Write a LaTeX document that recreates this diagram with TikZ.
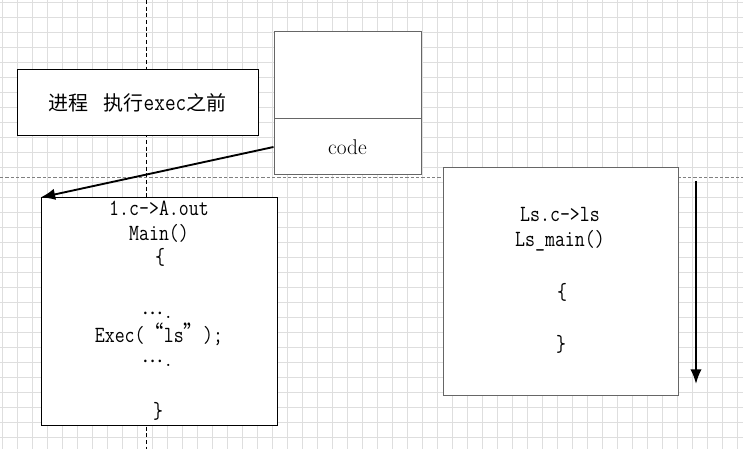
\documentclass[tikz,border=0pt]{standalone}
\usepackage{fontspec}
\usepackage{graphicx}
\newfontfamily\cjk{Noto Sans CJK SC}
\usetikzlibrary{arrows.meta}
\newcommand{\tallt}[1]{\scalebox{1}[1.2]{#1}}
\newcommand{\elli}{\raisebox{2.5pt}{\cjk …}}
\begin{document}
\begin{tikzpicture}[x=0.75pt,y=-0.75pt,
  boxg/.style={draw=black!60,line width=0.75pt,fill=white,inner sep=0pt},
  boxk/.style={draw=black,line width=0.75pt,fill=white,inner sep=0pt},
  codetxt/.style={font=\ttfamily\fontsize{14.5}{16}\selectfont,inner sep=0pt,anchor=base},
  arr/.style={line width=1.4pt,-{Latex[length=11pt,width=8.5pt]}}
]
\useasboundingbox (0,0) rectangle (743,449);
\fill[white] (0,0) rectangle (743,449);
% grid
\foreach \i in {0,...,49} {\draw[black!13,line width=0.6pt] (2+15*\i,0) -- (2+15*\i,449);}
\foreach \j in {0,...,29} {\draw[black!13,line width=0.6pt] (0,2+15*\j) -- (743,2+15*\j);}
% guide lines
\draw[black,line width=0.6pt,dash pattern=on 3pt off 2pt] (146,0) -- (146,449);
\draw[black!50,line width=0.6pt,dash pattern=on 2.5pt off 1.5pt] (0,177) -- (743,177);
% boxes
\node[boxk,minimum width=241*0.75pt,minimum height=66*0.75pt] (pre) at (137.5,103)
  {\fontsize{15}{18}\selectfont{\cjk 进程}\hspace{0.75em}{\cjk 执行}\tallt{\ttfamily\fontsize{15.5}{18}\selectfont exec}{\cjk 之前}};
\node[boxg,minimum width=147*0.75pt,minimum height=87*0.75pt] (top) at (347.5,75.5) {};
\node[boxg,minimum width=147*0.75pt,minimum height=56*0.75pt] (code) at (347.5,147)
  {\fontsize{16}{18}\selectfont code};
\node[boxk,minimum width=236*0.75pt,minimum height=227*0.75pt] (aout) at (159,311.5) {};
\node[boxg,minimum width=235*0.75pt,minimum height=227*0.75pt] (ls) at (560.5,281.5) {};
% left box text
\node[codetxt] (l1) at (159,216) {\tallt{1.c->A.out}};
\node[codetxt] (l2) at (159,241) {\tallt{Main()}};
\node[codetxt] (l3) at (160,264) {\tallt{\{}};
\node[codetxt] (l4) at (158,318) {\elli.};
\node[codetxt] (l5) at (159,342) {\tallt{Exec({\cjk “}ls{\cjk ”});}};
\node[codetxt] (l6) at (158,366) {\elli.};
\node[codetxt] (l7) at (158,418) {\tallt{\}}};
% right box text
\node[codetxt] (r1) at (560,222) {\tallt{Ls.c->ls}};
\node[codetxt] (r2) at (560,247) {\tallt{Ls\_main()}};
\node[codetxt] (r3) at (562,300) {\tallt{\{}};
\node[codetxt] (r4) at (561,351) {\tallt{\}}};
% arrows
\draw[arr] (code.west) -- (aout.north west);
\coordinate (ds) at (696,181);
\coordinate (de) at (696,384);
\draw[arr] (ds) -- (de);
\end{tikzpicture}
\end{document}
